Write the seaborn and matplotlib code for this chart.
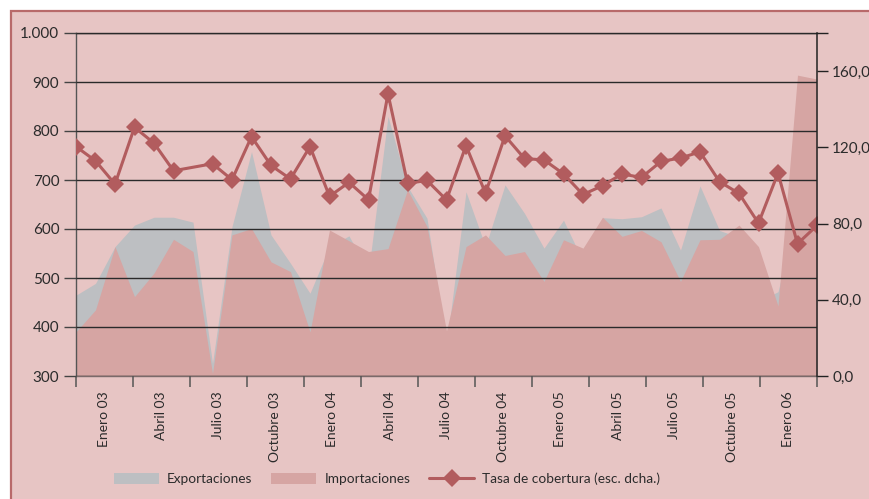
import matplotlib
matplotlib.use("Agg")
import matplotlib.pyplot as plt
import seaborn as sns
import numpy as np
import pandas as pd
from matplotlib import font_manager
from matplotlib.patches import Rectangle, Patch
from matplotlib.lines import Line2D

# monthly values, Enero 03 .. Marzo 06
exportaciones = [465, 489, 564, 608, 624, 624, 614, 326, 605, 758,
                 588, 530, 469, 564, 586, 512, 830, 687, 622, 362,
                 676, 564, 690, 632, 561, 618, 534, 623, 621, 625,
                 643, 557, 688, 597, 583, 452, 472, 634, 716]
importaciones = [390, 435, 564, 462, 510, 579, 554, 305, 588, 601,
                 533, 513, 390, 598, 576, 554, 560, 680, 605, 392,
                 564, 588, 546, 554, 493, 578, 561, 624, 585, 597,
                 574, 493, 578, 579, 608, 564, 443, 914, 906]
tasa = [120.4, 112.9, 100.7, 130.5, 122.2, 107.7, None, 111.4, 103.0, 125.6,
        110.5, 103.4, 120.4, 94.3, 101.6, 92.5, 148.1, 101.1, 102.6, 92.4,
        120.9, 95.9, 126.0, 114.1, 113.4, 106.1, 95.2, 99.9, 106.0, 104.2,
        112.6, 114.4, 117.6, 102.0, 95.8, 80.2, 106.5, 69.4, 79.0]
etiquetas = ["Enero 03", "Abril 03", "Julio 03", "Octubre 03",
             "Enero 04", "Abril 04", "Julio 04", "Octubre 04",
             "Enero 05", "Abril 05", "Julio 05", "Octubre 05", "Enero 06"]

BG = "#E7C5C4"
GRIS = "#BDBFC2"
ROSA = "#D6A5A3"
ROJO = "#B25C5E"
TXT = "#2b2b2b"

sns.set_theme(style="white")
names = {f.name for f in font_manager.fontManager.ttflist}
fam = "Liberation Sans Narrow" if "Liberation Sans Narrow" in names else "Lato"
plt.rcParams["font.family"] = [fam, "DejaVu Sans"]

df = pd.DataFrame({"mes": np.arange(len(exportaciones)),
                   "exp": exportaciones, "imp": importaciones,
                   "tasa": [np.nan if t is None else t for t in tasa]})

fig = plt.figure(figsize=(8.7, 4.99), dpi=100)
fig.patch.set_facecolor("white")
fondo = Rectangle((11 / 870, -0.05), 1.2, 1 - 11 / 499 + 0.05,
                  transform=fig.transFigure, facecolor=BG,
                  edgecolor="#B86A6A", lw=1.6, zorder=-10)
fig.patches.append(fondo)

ax = fig.add_axes([76 / 870, 1 - 376 / 499, (817 - 76) / 870, (376 - 33) / 499])
ax.set_facecolor(BG)
ax.fill_between(df["mes"], 0, df["exp"], color=GRIS, lw=0, zorder=1)
ax.fill_between(df["mes"], 0, df["imp"], color=ROSA, lw=0, zorder=1.2)
ax.set_xlim(0, len(df) - 1)
ax.set_ylim(300, 1000)
ax.set_yticks(range(300, 1001, 100))
ax.set_yticklabels(["300", "400", "500", "600", "700", "800", "900", "1.000"])
ax.yaxis.grid(True, color="#2a2a2a", lw=1.0)
ax.set_axisbelow(False)

n = len(df) - 1
bordes = np.linspace(0, n, len(etiquetas) + 1)
ax.set_xticks(bordes)
ax.set_xticklabels([""] * len(bordes))
ax.set_xticks((bordes[:-1] + bordes[1:]) / 2, minor=True)
ax.set_xticklabels(etiquetas, minor=True, rotation=90, va="top", ha="center")
ax.tick_params(axis="x", which="major", length=8, width=1.1, color="#555555", direction="out", bottom=True)
ax.tick_params(axis="x", which="minor", length=0, pad=11, labelsize=10, labelcolor=TXT)
ax.tick_params(axis="y", length=9, width=1.0, color="#444444", direction="out",
               pad=3, labelsize=11, labelcolor=TXT, left=True)

ax.spines["top"].set_color("#2a2a2a")
ax.spines["bottom"].set_color("#7a6a6a")
ax.spines["left"].set_color("#555555")
ax.spines["right"].set_visible(False)
for s in ax.spines.values():
    s.set_linewidth(1.0)

ax2 = ax.twinx()
sns.lineplot(data=df.dropna(subset=["tasa"]), x="mes", y="tasa", ax=ax2,
             color=ROJO, lw=2.2, marker="D", markersize=9,
             markeredgecolor=ROJO, markeredgewidth=0, legend=False)
ax2.set_ylim(0, 180)
ax2.set_yticks([0, 40, 80, 120, 160, 180])
ax2.set_yticklabels(["0,0", "40,0", "80,0", "120,0", "160,0", ""])
ax2.tick_params(axis="y", length=8, width=1.0, color="#222222", direction="out",
                pad=3, labelsize=11, labelcolor=TXT, right=True)
ax2.set_xlabel("")
ax2.set_ylabel("")
ax.set_xlabel("")
ax.set_ylabel("")
for s in ["top", "left", "bottom"]:
    ax2.spines[s].set_visible(False)
ax2.spines["right"].set_color("#222222")
ax2.spines["right"].set_linewidth(1.1)

handles = [Patch(facecolor=GRIS, edgecolor="none"),
           Patch(facecolor=ROSA, edgecolor="none"),
           Line2D([], [], color=ROJO, lw=2.2, marker="D", markersize=9, markeredgewidth=0)]
fig.legend(handles, ["Exportaciones", "Importaciones", "Tasa de cobertura (esc. dcha.)"],
           loc="center", bbox_to_anchor=(0.445, 0.04), ncol=3, frameon=False,
           fontsize=9.8, labelcolor=TXT, handlelength=3.3, handleheight=0.9,
           handletextpad=0.6, columnspacing=1.4)

fig.savefig("out.png", dpi=100, facecolor=fig.get_facecolor())
